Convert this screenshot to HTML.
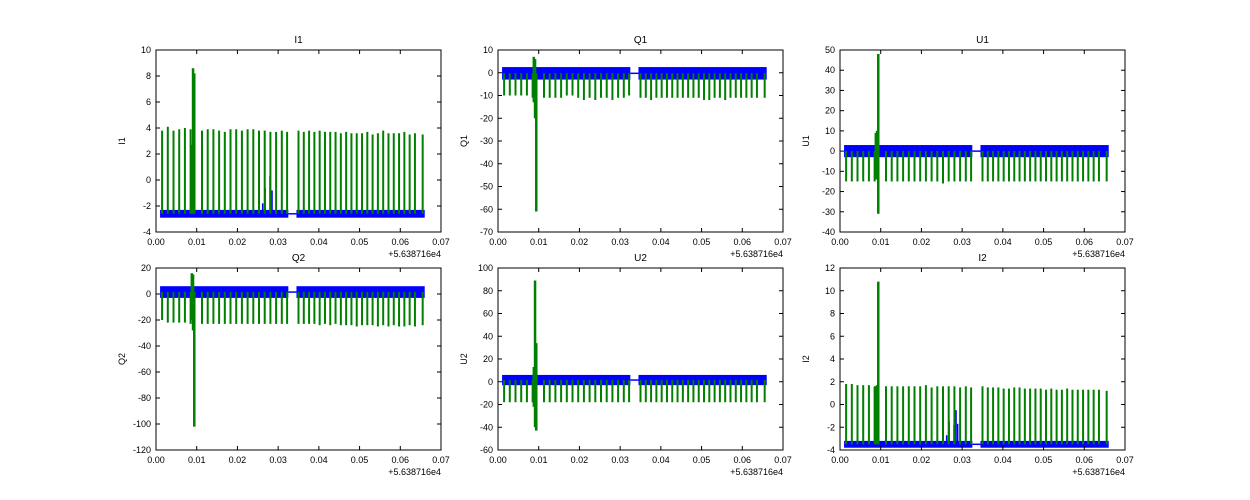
<!DOCTYPE html>
<html><head><meta charset="utf-8"><style>
body{margin:0;background:#fff;}
svg{display:block;font-family:"Liberation Sans",sans-serif;}
</style></head><body>
<svg id="fig" width="1250" height="500"></svg>
<script>
const spikeTimes=[0.0015,0.0029,0.0043,0.0057,0.0071,0.0085,0.0113,0.0127,0.0141,0.0155,0.0169,0.0183,0.0197,0.0211,0.0225,0.0239,0.0253,0.0267,0.0281,0.0295,0.0309,0.0322,
0.0350,0.0363,0.0376,0.0389,0.0402,0.0415,0.0428,0.0441,0.0454,0.0467,0.0480,0.0493,0.0506,0.0519,0.0532,0.0545,0.0558,0.0571,0.0584,0.0597,0.0610,0.0623,0.0636,0.0655];
const bigTimes=[0.0088,0.0091,0.0094];
const blueTimes=[0.0262,0.0268,0.0280,0.0285,0.0289];
const xTicks=[0,0.01,0.02,0.03,0.04,0.05,0.06,0.07];
const titles=["I1","Q1","U1","Q2","U2","I2"];
const yDomains=[[-4,10],[-70,10],[-40,50],[-120,20],[-60,100],[-4,12]];
const yTicks=[[-4,-2,0,2,4,6,8,10],[-70,-60,-50,-40,-30,-20,-10,0,10],[-40,-30,-20,-10,0,10,20,30,40,50],[-120,-100,-80,-60,-40,-20,0,20],[-60,-40,-20,0,20,40,60,80,100],[-4,-2,0,2,4,6,8,10,12]];
const bandLow=[-2.9,-3,-3,-3,-3,-3.8];
const bandHigh=[-2.3,2.5,3,6,6,-3.2];
const peaks=[
[3.8,4.1,3.8,3.9,4.0,3.9,3.8,3.9,3.9,3.8,3.7,3.9,3.9,3.8,3.9,3.9,3.8,3.8,3.7,3.7,3.8,3.7,3.8,3.7,3.8,3.7,3.8,3.7,3.7,3.7,3.6,3.7,3.6,3.6,3.6,3.7,3.5,3.6,3.8,3.6,3.6,3.6,3.7,3.5,3.6,3.5],
[-10,-10,-10,-10,-10,-11,-11,-11,-11,-11,-10,-10,-11,-12,-11,-12,-11,-11,-12,-11,-11,-10,-11,-11,-12,-11,-11,-11,-11,-11,-11,-11,-11,-11,-12,-12,-11,-11,-12,-11,-11,-11,-11,-11,-11,-11],
[-15,-15,-15,-15,-15,-15,-15,-15,-15,-15,-15,-15,-15,-15,-15,-15,-16,-15,-15,-15,-15,-15,-15,-15,-15,-15,-15,-15,-15,-15,-15,-15,-15,-15,-15,-15,-15,-15,-15,-15,-15,-15,-15,-15,-15,-15],
[-20,-22,-22,-22,-22,-23,-23,-23,-23,-23,-23,-23,-23,-23,-23,-23,-23,-23,-23,-23,-23,-23,-23,-23,-23,-23,-24,-23,-24,-23,-24,-24,-24,-25,-24,-24,-24,-25,-24,-25,-24,-25,-25,-24,-25,-24],
[-18,-18,-18,-18,-18,-18,-18,-18,-18,-18,-18,-18,-18,-18,-18,-18,-18,-18,-18,-18,-18,-18,-18,-18,-18,-18,-18,-18,-18,-18,-18,-18,-18,-18,-18,-18,-18,-18,-18,-18,-18,-18,-18,-18,-18,-18],
[1.8,1.8,1.7,1.7,1.7,1.6,1.6,1.6,1.6,1.6,1.6,1.6,1.6,1.7,1.5,1.6,1.6,1.6,1.6,1.5,1.6,1.5,1.6,1.5,1.5,1.5,1.4,1.4,1.5,1.5,1.4,1.4,1.4,1.4,1.3,1.4,1.3,1.3,1.4,1.3,1.3,1.3,1.3,1.3,1.3,1.2]];
const bigValues=[[2.7,8.6,-2.5],[7,6,-61],[9,-14,48],[16,-28,-102],[13,89,-43],[1.6,1.7,10.8]];
const bigValues2=[[-2.5,-2.5,8.2],[-13,-20,-44],[-14,10,-31],[-20,15,-83],[-22,-40,34],[-3.5,-3.5,1.7]];
const blueValues=[[-1.8,-0.6,0.3,-0.8,-2.5],[2,2,2,2,2],[2,2,2,2,2],[5,5,5,5,5],[5,5,5,5,5],[-2.7,-1.5,-1.8,-0.5,-1.7]];

const NS="http://www.w3.org/2000/svg";
const svg=document.getElementById('fig');
function mk(tag,attrs,parent){const e=document.createElementNS(NS,tag);for(const k in attrs)e.setAttribute(k,attrs[k]);(parent||svg).appendChild(e);return e;}
const cols=[156,498,840], rows=[50,268], W=285, H=182;
for(let p=0;p<6;p++){
  const x0=cols[p%3], y0=rows[Math.floor(p/3)];
  const [ymin,ymax]=yDomains[p];
  const sx=v=>x0+v/0.07*W, sy=v=>y0+H-(v-ymin)/(ymax-ymin)*H;
  const g=mk('g',{});
  
  
  const clipId='c'+p;
  const cp=mk('clipPath',{id:clipId},g);mk('rect',{x:x0,y:y0,width:W,height:H},cp);
  const plot=mk('g',{'clip-path':'url(#'+clipId+')'},g);
  const mid=(bandLow[p]+bandHigh[p])/2;
  const segs=[[0.001,0.0325],[0.0345,0.066]];
  segs.forEach((s,i)=>{
    const r=mk('rect',{x:sx(s[0]),y:sy(bandHigh[p]),width:sx(s[1])-sx(s[0]),height:Math.max(2,sy(bandLow[p])-sy(bandHigh[p])),fill:'#0000ff'},plot);
    
    
  });
  mk('line',{x1:sx(0.0325),x2:sx(0.0345),y1:sy(mid),y2:sy(mid),stroke:'#0000ff','stroke-width':1.5},plot);
  blueTimes.forEach((t,i)=>{
    const l=mk('line',{x1:sx(t),x2:sx(t),y1:sy(mid),y2:sy(blueValues[p][i]),stroke:'#0000ff','stroke-width':1.5},plot);
    
    
  });
  spikeTimes.forEach((t,i)=>{
    const l=mk('line',{x1:sx(t),x2:sx(t),y1:sy(mid),y2:sy(peaks[p][i]),stroke:'#008000','stroke-width':2},plot);
    
    
  });
  bigTimes.forEach((t,i)=>{
    const vals=[mid,bigValues[p][i],bigValues2[p][i]];
    const l=mk('line',{x1:sx(t),x2:sx(t),y1:sy(Math.min(...vals)),y2:sy(Math.max(...vals)),stroke:'#008000','stroke-width':2.5},plot);
    
    
  });
  mk('rect',{x:x0,y:y0,width:W,height:H,fill:'none',stroke:'#000','stroke-width':1},g);
  xTicks.forEach(t=>{
    const X=sx(t);
    mk('line',{x1:X,x2:X,y1:y0+H,y2:y0+H-4,stroke:'#000'},g);
    mk('line',{x1:X,x2:X,y1:y0,y2:y0+4,stroke:'#000'},g);
    const tx=mk('text',{x:X,y:y0+H+13,'font-size':9,'text-anchor':'middle',fill:'#000'},g);
    tx.textContent=t.toFixed(2);
  });
  yTicks[p].forEach(t=>{
    const Y=sy(t);
    mk('line',{x1:x0,x2:x0+4,y1:Y,y2:Y,stroke:'#000'},g);
    mk('line',{x1:x0+W,x2:x0+W-4,y1:Y,y2:Y,stroke:'#000'},g);
    const tx=mk('text',{x:x0-5,y:Y+3,'font-size':9,'text-anchor':'end',fill:'#000'},g);
    tx.textContent=t;
  });
  const ti=mk('text',{x:x0+W/2,y:y0-7,'font-size':10,'text-anchor':'middle',fill:'#000'},g);
  ti.textContent=titles[p];
  
  
  const yl=mk('text',{x:x0-31,y:y0+H/2,'font-size':9,'text-anchor':'middle',fill:'#000',transform:'rotate(-90 '+(x0-31)+' '+(y0+H/2)+')'},g);
  yl.textContent=titles[p];
  
  
  const off=mk('text',{x:x0+W,y:y0+H+25,'font-size':9,'text-anchor':'end',fill:'#000'},g);
  off.textContent='+5.638716e4';
  
  
}
</script>
</body></html>
